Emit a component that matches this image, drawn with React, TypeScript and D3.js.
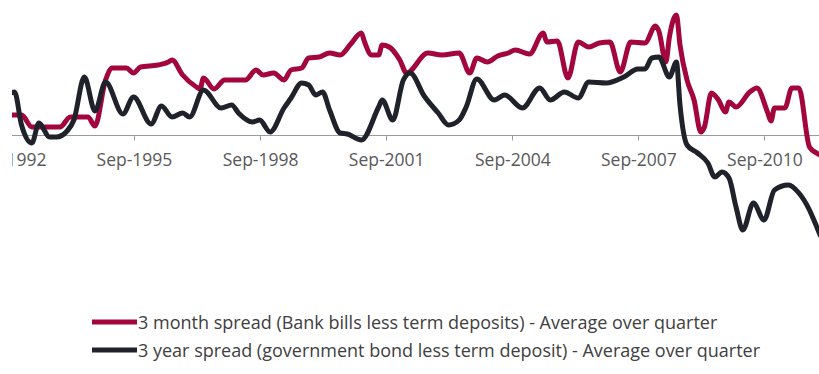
import React from "react";
import * as d3 from "d3";

// 3 month spread (bank bills less term deposits), percentage points
const redDates = [
  "1992-10","1993-01","1993-04","1993-12","1994-03","1994-08","1994-10","1995-01","1995-03","1995-07",
  "1995-09","1995-11","1996-04","1996-07","1996-08","1996-11","1997-03","1997-04","1997-05","1997-08",
  "1997-11","1998-05","1998-08","1998-10","1999-01","1999-04","1999-06","1999-09","1999-11","2000-02",
  "2000-05","2000-08","2000-11","2001-02","2001-03","2001-05","2001-07","2001-08","2001-10","2002-01",
  "2002-03","2002-09","2003-01","2003-06","2003-09","2003-11","2004-02","2004-05","2004-08","2004-10",
  "2005-02","2005-06","2005-07","2005-10","2006-01","2006-04","2006-07","2006-10","2007-01","2007-04",
  "2007-07","2007-11","2008-02","2008-03","2008-05","2008-06","2008-08","2008-09","2008-11","2009-01",
  "2009-03","2009-04","2009-06","2009-08","2009-10","2009-11","2010-01","2010-05","2010-07","2010-10",
  "2010-11","2010-12","2011-03","2011-05","2011-07","2011-10","2011-12","2012-01"
];
const redValues = [
  0.21, 0.21, 0.09, 0.09, 0.19, 0.19, 0.10, 0.56, 0.68, 0.68,
  0.63, 0.69, 0.71, 0.74, 0.76, 0.61, 0.49, 0.47, 0.58, 0.47,
  0.56, 0.56, 0.66, 0.61, 0.63, 0.56, 0.66, 0.68, 0.78, 0.79,
  0.83, 0.81, 0.92, 1.03, 0.94, 0.81, 0.81, 0.91, 0.89, 0.76,
  0.63, 0.83, 0.81, 0.83, 0.63, 0.78, 0.74, 0.80, 0.83, 0.86,
  0.82, 1.03, 0.94, 0.95, 0.58, 0.94, 0.89, 0.93, 0.94, 0.64,
  0.94, 0.93, 1.10, 1.05, 0.74, 0.99, 1.21, 0.91, 0.56, 0.36,
  0.04, 0.09, 0.43, 0.36, 0.24, 0.34, 0.29, 0.44, 0.48, 0.24,
  0.15, 0.28, 0.28, 0.48, 0.48, -0.11, -0.17, -0.19
];

// 3 year spread (government bond less term deposit), percentage points
const blackDates = [
  "1992-10","1992-11","1993-01","1993-04","1993-06","1993-09","1993-11","1994-02","1994-04","1994-07",
  "1994-10","1995-01","1995-06","1995-09","1996-02","1996-05","1996-08","1996-11","1997-01","1997-05",
  "1997-10","1998-01","1998-03","1998-07","1998-09","1998-12","1999-04","1999-06","1999-09","1999-11",
  "2000-01","2000-03","2000-05","2000-08","2000-10","2001-02","2001-07","2001-08","2001-11","2002-02",
  "2002-04","2002-08","2002-12","2003-03","2003-06","2003-08","2003-11","2004-04","2004-07","2004-12",
  "2005-05","2005-08","2005-12","2006-04","2006-07","2006-12","2007-05","2007-09","2007-11","2008-01",
  "2008-03","2008-06","2008-08","2008-09","2008-11","2009-02","2009-05","2009-07","2009-09","2009-11",
  "2010-01","2010-03","2010-06","2010-09","2010-12","2011-04","2011-07","2011-10","2011-11","2012-01"
];
const blackValues = [
  0.43, 0.44, 0.11, -0.07, 0.13, -0.01, -0.01, 0.05, 0.16, 0.59,
  0.25, 0.54, 0.22, 0.39, 0.12, 0.30, 0.19, 0.23, 0.19, 0.46,
  0.28, 0.31, 0.23, 0.14, 0.16, 0.04, 0.28, 0.38, 0.53, 0.51,
  0.41, 0.44, 0.26, 0.03, 0.02, -0.04, 0.29, 0.36, 0.16, 0.56,
  0.63, 0.40, 0.23, 0.11, 0.16, 0.29, 0.57, 0.36, 0.41, 0.28,
  0.48, 0.36, 0.44, 0.38, 0.54, 0.53, 0.59, 0.67, 0.67, 0.78,
  0.79, 0.59, 0.74, 0.31, -0.09, -0.17, -0.27, -0.41, -0.36, -0.42,
  -0.71, -0.94, -0.67, -0.84, -0.54, -0.49, -0.57, -0.74, -0.82, -0.99
];

const tickDates = ["1992-09","1995-09","1998-09","2001-09","2004-09","2007-09","2010-09"];
const tickLabels = ["Sep-1992","Sep-1995","Sep-1998","Sep-2001","Sep-2004","Sep-2007","Sep-2010"];

const legendLabels = [
  "3 month spread (Bank bills less term deposits) - Average over quarter",
  "3 year spread (government bond less term deposit) - Average over quarter",
];

const RED = "#a3063d";
const BLACK = "#1f222a";
const FONT = "'Open Sans', 'Noto Sans', sans-serif";

const parse = d3.timeParse("%Y-%m");

export default function App() {
  const W = 819;
  const H = 374;
  const plotLeft = 12;
  const plotRight = 819;

  const x = d3
    .scaleTime()
    .domain([parse("1992-09")!, parse("2010-09")!])
    .range([7.5, 764]);
  const y = d3.scaleLinear().domain([0, 1]).range([136, 36]);

  const red = redDates.map((d, i) => ({ date: parse(d)!, v: redValues[i] }));
  const black = blackDates.map((d, i) => ({ date: parse(d)!, v: blackValues[i] }));

  const line = d3
    .line<{ date: Date; v: number }>()
    .x((d) => x(d.date))
    .y((d) => y(d.v))
    .curve(d3.curveMonotoneX);

  const axisY = Math.round(y(0)) - 0.5;
  const ticks = tickDates.map((d) => parse(d)!);

  return (
    <svg
      width={W}
      height={H}
      viewBox={`0 0 ${W} ${H}`}
      style={{ position: "absolute", left: 0, top: 0, background: "#fff" }}
    >
      <defs>
        <clipPath id="crop">
          <rect x={plotLeft} y={0} width={plotRight - plotLeft} height={H} />
        </clipPath>
      </defs>
      <rect x={0} y={0} width={W} height={H} fill="#fff" />
      <g clipPath="url(#crop)">
        {/* axis */}
        <line x1={plotLeft} x2={plotRight} y1={axisY} y2={axisY} stroke="#9a9a9a" strokeWidth={1} />
        {ticks.map((t, i) => {
          const tx = Math.round(x(t)) + 0.5;
          return tx > plotLeft ? (
            <line key={"t" + i} x1={tx} x2={tx} y1={axisY} y2={axisY + 5} stroke="#9a9a9a" strokeWidth={1} />
          ) : null;
        })}
        {ticks.map((t, i) => (
          <text
            key={"l" + i}
            x={x(t) + 1}
            y={166}
            textAnchor="middle"
            fontFamily={FONT}
            fontSize={17.5}
            fill="#595959"
          >
            {tickLabels[i]}
          </text>
        ))}
        <g fill="none" strokeLinejoin="round" strokeLinecap="round">
          <path d={line(red) || ""} stroke={RED} strokeWidth={5} />
          <path d={line(black) || ""} stroke={BLACK} strokeWidth={5} />
        </g>
      </g>
      {/* legend */}
      {[RED, BLACK].map((c, i) => {
        const ly = 322 + i * 28;
        return (
          <g key={"lg" + i}>
            <line x1={92} x2={137} y1={ly} y2={ly} stroke={c} strokeWidth={5} />
            <text x={138} y={ly + 6.5} fontFamily={FONT} fontSize={18} fill="#404040">
              {legendLabels[i]}
            </text>
          </g>
        );
      })}
    </svg>
  );
}
